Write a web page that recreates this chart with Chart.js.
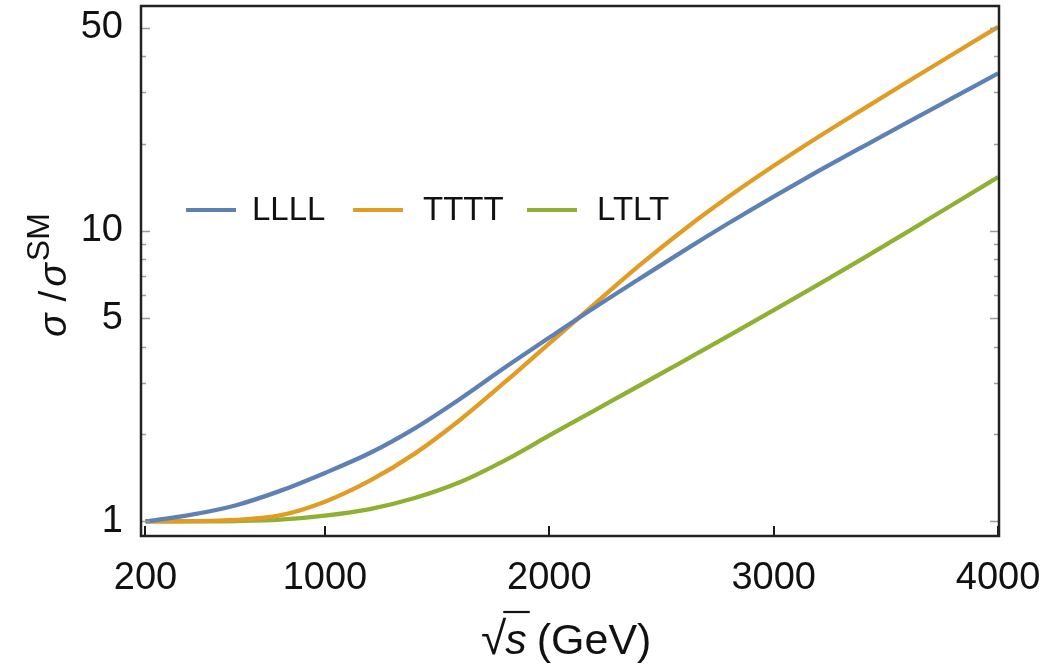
<!DOCTYPE html>
<html>
<head>
<meta charset="utf-8">
<script src="https://cdn.jsdelivr.net/npm/chart.js@4/dist/chart.umd.min.js"></script>
<style>
  html, body { margin: 0; padding: 0; background: #ffffff; }
  #wrap { width: 1049px; height: 664px; }
</style>
</head>
<body>
<div id="wrap"><canvas id="c" width="1049" height="664"></canvas></div>
<script>
// Centre-of-mass energy sqrt(s) in GeV
const energies = [200, 400, 600, 800, 1000, 1200, 1400, 1600, 1800, 2000, 2200, 2400, 2600, 2800, 3000, 3200, 3400, 3600, 3800, 4000];
// Cross-section ratio sigma / sigma^SM per helicity configuration
const llll = [1.000, 1.053, 1.135, 1.274, 1.469, 1.720, 2.092, 2.636, 3.381, 4.295, 5.439, 6.831, 8.561, 10.65, 13.14, 16.09, 19.57, 23.74, 28.77, 34.87];
const tttt = [1.000, 1.002, 1.012, 1.050, 1.170, 1.382, 1.712, 2.231, 3.009, 4.106, 5.590, 7.593, 10.10, 13.13, 16.76, 21.11, 26.33, 32.77, 40.68, 50.40];
const ltlt = [1.000, 1.0005, 1.003, 1.014, 1.047, 1.103, 1.204, 1.364, 1.620, 1.977, 2.408, 2.932, 3.574, 4.361, 5.335, 6.548, 8.065, 9.968, 12.36, 15.33];

const seriesNames = ['LLLL', 'TTTT', 'LTLT'];
const seriesColors = ['#5E81B5', '#E19C24', '#8FB032'];

const xTicks = [200, 1000, 2000, 3000, 4000];
const yTicks = [1, 2, 3, 4, 5, 6, 7, 8, 9, 10, 20, 30, 40, 50];
const yLabeled = [1, 5, 10, 50];

const FONT = "'Liberation Sans', Arial, Helvetica, sans-serif";

function series(values) {
  return energies.map((x, i) => ({ x: x, y: values[i] }));
}

// Remove the automatic overhang padding so the plot box keeps its size
function noPadding(s) {
  s.paddingLeft = 0; s.paddingRight = 0; s.paddingTop = 0; s.paddingBottom = 0;
}

// Frame, inward ticks, legend and axis titles
const decorations = {
  id: 'decorations',
  afterDraw(chart) {
    const ctx = chart.ctx;
    const a = chart.chartArea;
    const xs = chart.scales.x;
    const ys = chart.scales.y;
    ctx.save();

    // y ticks on left and right edges
    ctx.strokeStyle = '#9a9a9a';
    ctx.lineWidth = 1.5;
    yTicks.forEach(v => {
      const y = Math.round(ys.getPixelForValue(v)) + 0.5;
      const len = yLabeled.includes(v) ? 9 : 5;
      ctx.beginPath();
      ctx.moveTo(a.left, y); ctx.lineTo(a.left + len, y);
      ctx.moveTo(a.right, y); ctx.lineTo(a.right - len, y);
      ctx.stroke();
    });

    // x ticks on bottom edge
    ctx.strokeStyle = '#1a1a1a';
    ctx.lineWidth = 2;
    xTicks.forEach(v => {
      const x = Math.round(xs.getPixelForValue(v));
      ctx.beginPath();
      ctx.moveTo(x, a.bottom); ctx.lineTo(x, a.bottom - 10);
      ctx.stroke();
    });

    // frame
    ctx.strokeStyle = '#222222';
    ctx.lineWidth = 2.5;
    ctx.strokeRect(a.left, a.top, a.right - a.left, a.bottom - a.top);

    // legend inside the plot
    const legendY = 210;
    const legendItems = [
      { x: 186, tx: 252 },
      { x: 353, tx: 423 },
      { x: 527, tx: 597 }
    ];
    ctx.font = '33px ' + FONT;
    ctx.textBaseline = 'middle';
    ctx.textAlign = 'left';
    chart.data.datasets.forEach((ds, i) => {
      const it = legendItems[i];
      ctx.strokeStyle = ds.borderColor;
      ctx.lineWidth = 4;
      ctx.beginPath();
      ctx.moveTo(it.x, legendY); ctx.lineTo(it.x + 50, legendY);
      ctx.stroke();
      ctx.fillStyle = '#111111';
      ctx.fillText(ds.label, it.tx, legendY + 1);
    });

    // y-axis title: sigma / sigma^SM, rotated
    ctx.fillStyle = '#111111';
    ctx.save();
    ctx.translate(66, 337);
    ctx.rotate(-Math.PI / 2);
    ctx.textBaseline = 'alphabetic';
    ctx.textAlign = 'left';
    let px = 0;
    ctx.font = 'italic 39px ' + FONT;
    ctx.fillText('\u03C3', px, 0);
    px += ctx.measureText('\u03C3').width + 12;
    ctx.font = '39px ' + FONT;
    ctx.fillText('/', px, 0);
    px += ctx.measureText('/').width + 4;
    ctx.font = 'italic 39px ' + FONT;
    ctx.fillText('\u03C3', px, 0);
    px += ctx.measureText('\u03C3').width + 2;
    ctx.font = '32px ' + FONT;
    ctx.fillText('SM', px, -17);
    ctx.restore();

    // x-axis title: sqrt(s) (GeV)
    const baseY = 654;
    let tx = 481;
    ctx.textBaseline = 'alphabetic';
    ctx.textAlign = 'left';
    ctx.font = '46px ' + FONT;
    ctx.fillText('\u221A', tx, baseY);
    tx += ctx.measureText('\u221A').width - 2;
    ctx.font = 'italic 43px ' + FONT;
    const sW = ctx.measureText('s').width;
    ctx.fillText('s', tx + 1, baseY);
    ctx.strokeStyle = '#111111';
    ctx.lineWidth = 2.2;
    ctx.beginPath();
    ctx.moveTo(tx - 1, baseY - 42); ctx.lineTo(tx + sW + 4, baseY - 42);
    ctx.stroke();
    tx += sW + 11;
    ctx.font = '43px ' + FONT;
    ctx.fillText('(GeV)', tx, baseY);

    ctx.restore();
  }
};

const chart = new Chart(document.getElementById('c'), {
  type: 'scatter',
  data: {
    datasets: [llll, tttt, ltlt].map((vals, i) => ({
      label: seriesNames[i],
      data: series(vals),
      showLine: true,
      borderColor: seriesColors[i],
      backgroundColor: seriesColors[i],
      borderWidth: 4.3,
      pointRadius: 0,
      pointHoverRadius: 0,
      cubicInterpolationMode: 'monotone',
      fill: false
    }))
  },
  options: {
    responsive: false,
    animation: false,
    events: [],
    layout: { padding: { top: 6, right: 50, left: 0, bottom: 0 } },
    plugins: {
      legend: { display: false },
      tooltip: { enabled: false },
      title: { display: false }
    },
    scales: {
      x: {
        type: 'linear',
        min: 180,
        max: 4004,
        grid: { display: false, drawTicks: false },
        border: { display: false },
        afterBuildTicks: s => { s.ticks = xTicks.map(v => ({ value: v })); },
        afterFit: s => { s.height = 128; noPadding(s); },
        ticks: {
          autoSkip: false,
          maxRotation: 0,
          padding: 20,
          color: '#111111',
          font: { family: FONT, size: 38 },
          callback: v => String(v)
        }
      },
      y: {
        type: 'logarithmic',
        min: 0.891,
        max: 59.5,
        grid: { display: false, drawTicks: false },
        border: { display: false },
        afterBuildTicks: s => { s.ticks = yTicks.map(v => ({ value: v })); },
        afterFit: s => { s.width = 141; noPadding(s); },
        ticks: {
          autoSkip: false,
          padding: 18,
          color: '#111111',
          font: { family: FONT, size: 38 },
          callback: v => (yLabeled.includes(v) ? String(v) : '')
        }
      }
    }
  },
  plugins: [decorations]
});
</script>
</body>
</html>
